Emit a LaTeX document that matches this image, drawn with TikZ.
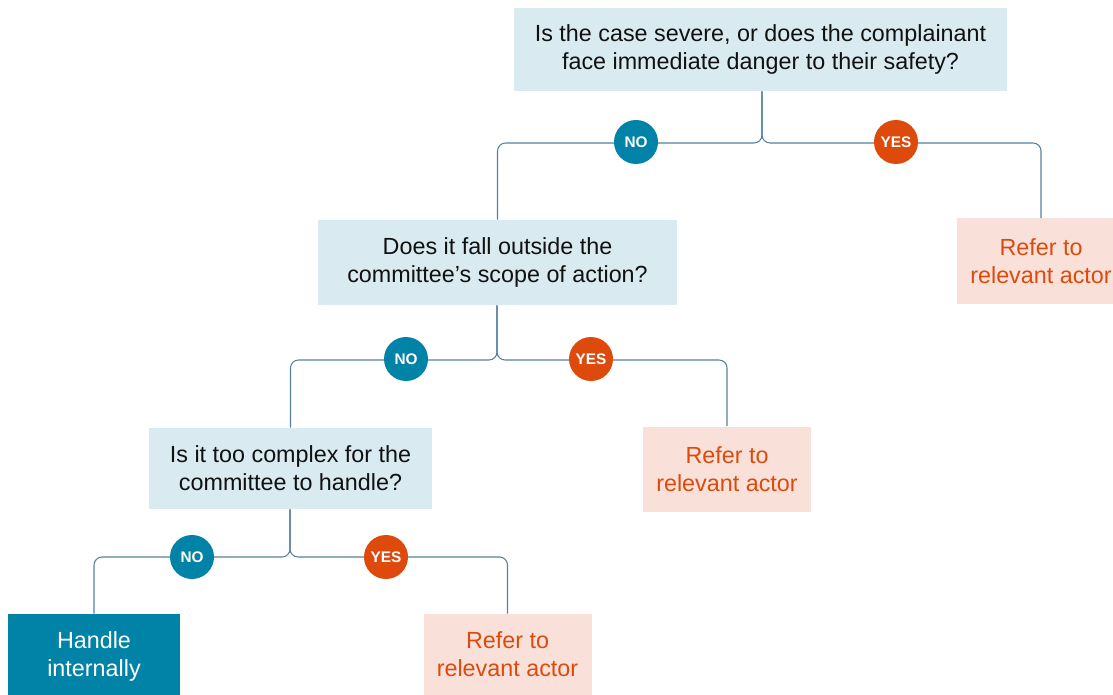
\documentclass[tikz,border=0pt]{standalone}
\usepackage{fontspec}
\setmainfont{Liberation Sans}
\definecolor{qfill}{HTML}{D9EBF1}
\definecolor{teal}{HTML}{0083A6}
\definecolor{orng}{HTML}{DD4A0C}
\definecolor{pinkf}{HTML}{F9E1DA}
\definecolor{conncol}{HTML}{5580A0}
\definecolor{txt}{HTML}{111111}
\tikzset{
  qbox/.style={fill=qfill, text=txt, align=center, font=\fontsize{17.5}{21}\selectfont, inner sep=0pt},
  refbox/.style={fill=pinkf, text=orng, align=center, font=\fontsize{17.5}{21}\selectfont, inner sep=0pt, minimum width=126pt, minimum height=63.75pt},
  endbox/.style={fill=teal, text=white, align=center, font=\fontsize{17.5}{21}\selectfont, inner sep=0pt},
  conn/.style={draw=conncol, line width=0.8pt, rounded corners=6pt},
  nocirc/.style={circle, fill=teal, text=white, font=\fontsize{11.5}{12}\bfseries\selectfont, minimum size=33pt, inner sep=0pt},
  yescirc/.style={circle, fill=orng, text=white, font=\fontsize{11.5}{12}\bfseries\selectfont, minimum size=33pt, inner sep=0pt}
}
\begin{document}
\begin{tikzpicture}[x=0.75pt,y=-0.75pt]
\useasboundingbox (0,0) rectangle (1113,695);
\clip (0,0) rectangle (1113,695);
% boxes
\node[qbox, minimum width=369.75pt, minimum height=62.25pt] (q1) at (760.5,49.5) {Is the case severe, or does the complainant\\face immediate danger to their safety?};
\node[qbox, minimum width=269.25pt, minimum height=63.75pt] (q2) at (497.5,262.5) {Does it fall outside the\\committee’s scope of action?};
\node[qbox, minimum width=212.25pt, minimum height=60.75pt] (q3) at (290.5,468.5) {Is it too complex for the\\committee to handle?};
\node[refbox] (r1) at (1041,261) {Refer to\\relevant actor};
\node[refbox] (r2) at (727,469) {Refer to\\relevant actor};
\node[refbox, minimum height=60.75pt] (r3) at (507.5,654.5) {Refer to\\relevant actor};
\node[endbox, minimum width=129pt, minimum height=63pt] (h) at (94,656) {Handle\\internally};
% connectors
\coordinate (j1) at (762,143);
\coordinate (j2) at (497,360);
\coordinate (j3) at (290,557);
\draw[conn] (q1.south -| j1) -- (j1) -| (q2.north);
\draw[conn] (q1.south -| j1) -- (j1) -| (r1.north);
\draw[conn] (q2.south -| j2) -- (j2) -| (q3.north);
\draw[conn] (q2.south -| j2) -- (j2) -| (r2.north);
\draw[conn] (q3.south -| j3) -- (j3) -| (h.north);
\draw[conn] (q3.south -| j3) -- (j3) -| (r3.north);
% circles
\node[nocirc] (n1) at (636,142) {NO};
\node[yescirc] (y1) at (896,142) {YES};
\node[nocirc] (n2) at (406,359) {NO};
\node[yescirc] (y2) at (591,359) {YES};
\node[nocirc] (n3) at (192,557) {NO};
\node[yescirc] (y3) at (386,557) {YES};
\end{tikzpicture}
\end{document}
